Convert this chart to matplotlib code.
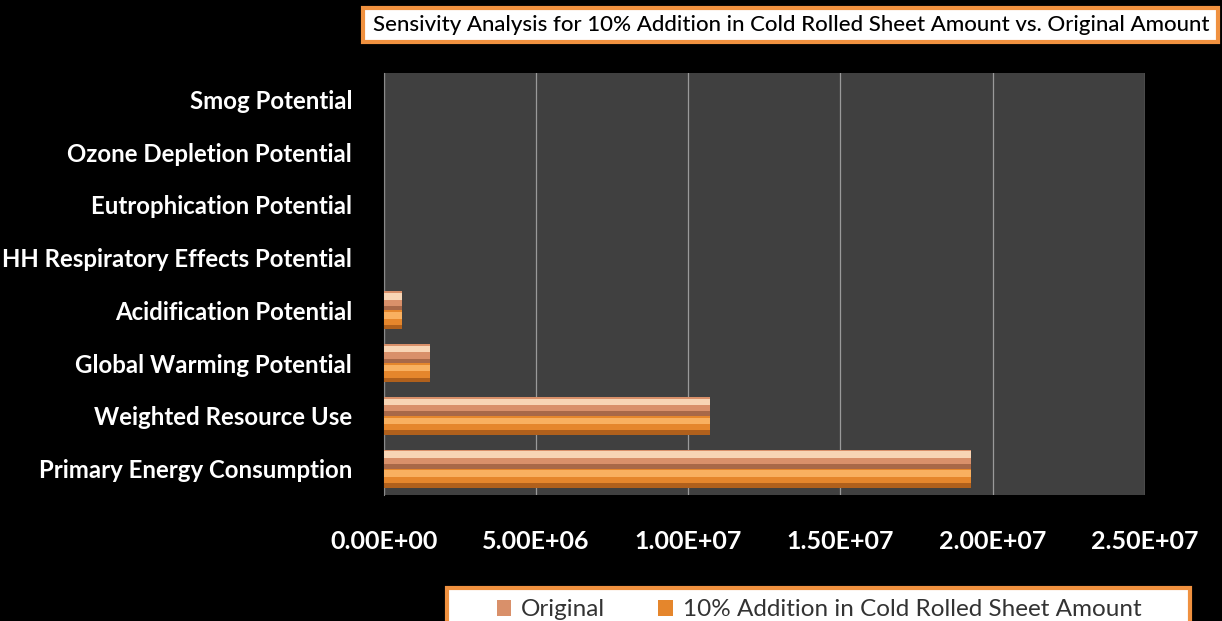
import numpy as np
import matplotlib.pyplot as plt
from matplotlib.patches import Rectangle
from matplotlib.ticker import FuncFormatter

plt.rcParams['font.family'] = ['Lato', 'DejaVu Sans']

categories = ['Primary Energy Consumption', 'Weighted Resource Use',
              'Global Warming Potential', 'Acidification Potential',
              'HH Respiratory Effects Potential', 'Eutrophication Potential',
              'Ozone Depletion Potential', 'Smog Potential']
original = [1.93e7, 1.07e7, 1.50e6, 5.9e5, 5.0e3, 1.0e3, 0.1, 1.0e3]
added = [1.93e7, 1.07e7, 1.51e6, 5.95e5, 5.1e3, 1.0e3, 0.1, 1.0e3]
series_names = ['Original', '10% Addition in Cold Rolled Sheet Amount']

W, H = 1222, 621
fig = plt.figure(figsize=(W / 100, H / 100), dpi=100, facecolor='black')
ax = fig.add_axes([0.3142, 0.2029, 0.6225, 0.6795])
ax.set_facecolor('#404040')

y = np.arange(len(categories))
h = 0.36

# two bars per category, original on top
b1 = ax.barh(y + h / 2, original, height=h, color='#D9906A',
             linewidth=0, label=series_names[0], zorder=3)
b2 = ax.barh(y - h / 2, added, height=h, color='#E5862C',
             linewidth=0, label=series_names[1], zorder=3)
# light band on top and dark band at the bottom of each bar (bevel look)
ax.barh(y + h / 2 + h * 0.24, original, height=h * 0.34, color='#F8D5B5',
        linewidth=0, zorder=4)
ax.barh(y - h / 2 + h * 0.24, added, height=h * 0.34, color='#F9B060',
        linewidth=0, zorder=4)
ax.barh(y + h / 2 - h * 0.38, original, height=h * 0.24, color='#A86848',
        linewidth=0, zorder=4)
ax.barh(y - h / 2 - h * 0.38, added, height=h * 0.24, color='#B0601C',
        linewidth=0, zorder=4)

ax.set_xlim(0, 2.5e7)
ax.set_ylim(-0.5, len(categories) - 0.5)
ax.set_xticks(np.arange(0, 2.51e7, 5e6))
ax.xaxis.set_major_formatter(FuncFormatter(lambda v, p: f'{v:.2E}'))
ax.set_yticks(y)
ax.set_yticklabels(categories)
ax.tick_params(axis='both', length=0, colors='white')
ax.tick_params(axis='x', pad=25, labelsize=18)
ax.tick_params(axis='y', pad=23, labelsize=17.3)
for lab in ax.get_xticklabels() + ax.get_yticklabels():
    lab.set_fontweight('bold')
ax.grid(axis='x', color='#9A9A9A', linewidth=0.9, zorder=0)
for s in ax.spines.values():
    s.set_visible(False)
ax.spines['left'].set_visible(True)
ax.spines['left'].set_color('#8A8A8A')

# title box
fig.patches.append(Rectangle((363 / W, 1 - 42 / H), (1218 - 363) / W, 34 / H,
                             transform=fig.transFigure, facecolor='white',
                             edgecolor='#F0913F', linewidth=3, zorder=1))
fig.text(791 / W, 1 - 25 / H,
         'Sensivity Analysis for 10% Addition in Cold Rolled Sheet Amount vs. Original Amount',
         ha='center', va='center', fontsize=16, fontweight='medium',
         color='black', zorder=2)

# legend box, running off the bottom edge
fig.patches.append(Rectangle((447 / W, -0.05), (1190 - 447) / W, 0.05 + 1 - 588 / H,
                             transform=fig.transFigure, facecolor='white',
                             edgecolor='#F0913F', linewidth=3, zorder=1))
leg = fig.legend(handles=[b1, b2], loc='center', bbox_to_anchor=(819 / W, 1 - 610 / H),
                 ncol=2, fontsize=17.5, frameon=False,
                 handlelength=0.6, handleheight=0.6, handletextpad=0.4,
                 columnspacing=2.2, borderpad=0.0, labelcolor='#333333')
leg.set_zorder(3)

fig.savefig('out.png', dpi=100, facecolor='black')
